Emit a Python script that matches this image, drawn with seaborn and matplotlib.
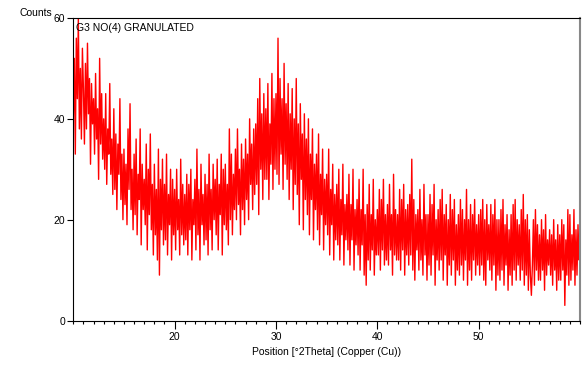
import numpy as np
import pandas as pd
import matplotlib
matplotlib.use("Agg")
import matplotlib.pyplot as plt
from matplotlib.ticker import MultipleLocator
import seaborn as sns

# 2Theta start / step of the scan
theta_start = 10.0
theta_step = 0.1

# counts, one row per degree (10.0 .. 59.9) plus the final point at 60.0
counts = [
    40, 52, 33, 56, 44, 60, 38, 50, 36, 54,
    46, 35, 51, 38, 55, 41, 48, 31, 47, 39,
    44, 33, 49, 36, 42, 28, 52, 35, 45, 32,
    40, 30, 45, 27, 38, 33, 47, 29, 36, 25,
    42, 26, 37, 22, 35, 29, 44, 24, 33, 20,
    34, 23, 31, 19, 38, 26, 43, 22, 30, 18,
    33, 21, 36, 17, 29, 24, 38, 15, 31, 22,
    28, 19, 35, 14, 30, 21, 37, 18, 27, 13,
    31, 17, 26, 12, 34, 9, 28, 18, 32, 15,
    27, 16, 33, 13, 25, 19, 30, 12, 28, 17,
    26, 14, 30, 18, 24, 13, 32, 17, 27, 15,
    25, 16, 29, 13, 27, 18, 30, 12, 24, 19,
    28, 14, 34, 17, 26, 12, 31, 19, 25, 15,
    29, 16, 27, 13, 33, 18, 26, 14, 31, 20,
    28, 17, 32, 14, 27, 21, 33, 13, 30, 19,
    31, 18, 27, 15, 38, 20, 33, 17, 29, 22,
    34, 20, 38, 23, 30, 17, 35, 22, 32, 19,
    36, 24, 33, 20, 40, 27, 35, 22, 38, 25,
    39, 27, 44, 21, 48, 30, 41, 24, 45, 28,
    42, 28, 47, 24, 39, 31, 49, 26, 44, 30,
    45, 29, 56, 27, 48, 33, 44, 26, 51, 31,
    43, 28, 47, 24, 41, 30, 46, 22, 40, 27,
    48, 25, 39, 19, 43, 28, 37, 18, 41, 24,
    36, 21, 40, 17, 33, 24, 38, 16, 31, 22,
    33, 18, 37, 15, 29, 21, 34, 14, 28, 19,
    29, 17, 34, 13, 26, 19, 31, 12, 25, 16,
    27, 15, 30, 12, 24, 17, 31, 11, 23, 16,
    25, 14, 29, 11, 23, 16, 30, 10, 22, 15,
    24, 13, 28, 10, 22, 15, 30, 9, 21, 7,
    23, 12, 27, 10, 21, 14, 28, 9, 20, 13,
    22, 13, 26, 10, 24, 14, 28, 11, 21, 12,
    23, 11, 27, 14, 21, 9, 29, 13, 22, 12,
    21, 12, 26, 10, 24, 14, 27, 9, 22, 13,
    23, 11, 25, 13, 32, 10, 24, 8, 21, 14,
    22, 10, 26, 12, 20, 9, 27, 13, 21, 8,
    21, 11, 25, 9, 23, 13, 27, 7, 20, 12,
    22, 10, 24, 12, 26, 8, 21, 13, 23, 7,
    20, 11, 25, 9, 22, 12, 24, 7, 19, 10,
    21, 9, 24, 11, 22, 8, 20, 12, 26, 7,
    20, 10, 23, 8, 21, 12, 24, 9, 19, 11,
    21, 9, 22, 11, 24, 8, 20, 7, 23, 12,
    19, 10, 23, 8, 21, 11, 24, 6, 20, 9,
    20, 8, 22, 10, 24, 7, 19, 11, 21, 6,
    18, 9, 21, 7, 23, 10, 24, 8, 20, 11,
    19, 8, 22, 10, 25, 7, 20, 9, 21, 6,
    18, 9, 5, 11, 20, 7, 22, 10, 19, 8,
    17, 8, 20, 10, 18, 6, 21, 9, 16, 11,
    18, 9, 17, 7, 20, 10, 16, 6, 19, 8,
    17, 8, 20, 10, 19, 3, 16, 9, 22, 7,
    21, 8, 17, 10, 22, 7, 18, 9, 19, 12,
    14,
]

x_ticks = [20, 30, 40, 50]
y_ticks = [0, 20, 40, 60]
sample_name = "G3 NO(4) GRANULATED"
x_label = "Position [\u00b02Theta] (Copper (Cu))"
y_label = "Counts"

theta = theta_start + theta_step * np.arange(len(counts))
df = pd.DataFrame({"theta": theta, "counts": counts})

sns.set_style("ticks")
plt.rcParams["font.family"] = ["Liberation Sans Narrow", "Liberation Sans", "DejaVu Sans"]
plt.rcParams["text.color"] = "black"
plt.rcParams["xtick.color"] = "black"
plt.rcParams["ytick.color"] = "black"
plt.rcParams["axes.labelcolor"] = "black"

fig = plt.figure(figsize=(5.83, 3.66), dpi=100)
ax = fig.add_axes([0.1257, 0.1243, 0.8692, 0.8265])

sns.lineplot(data=df, x="theta", y="counts", ax=ax, color="#ff0000",
             linewidth=1.0, estimator=None, sort=False)

ax.set_xlim(10, 60)
ax.set_ylim(0, 60)
ax.set_xticks(x_ticks)
ax.set_yticks(y_ticks)
ax.xaxis.set_minor_locator(MultipleLocator(1))
ax.tick_params(axis="x", which="major", length=6, width=0.8, labelsize=7.5, pad=2, color="black")
ax.tick_params(axis="x", which="minor", length=2.5, width=0.8, color="black")
ax.tick_params(axis="y", which="major", length=4, width=0.8, labelsize=7.5, pad=2, color="black")

for side in ["left", "bottom", "top"]:
    ax.spines[side].set_visible(True)
    ax.spines[side].set_color("black")
    ax.spines[side].set_linewidth(0.8)
ax.spines["right"].set_visible(True)
ax.spines["right"].set_color("#888888")
ax.spines["right"].set_linewidth(1.5)

ax.set_xlabel(x_label, fontsize=7.5, labelpad=4, color="black")
ax.set_ylabel("")
fig.text(0.034, 0.965, y_label, fontsize=7.5, ha="left", va="center", color="black")
ax.text(0.006, 0.985, sample_name, transform=ax.transAxes, fontsize=7.5,
        ha="left", va="top", color="black")

fig.savefig("out.png", dpi=100)
